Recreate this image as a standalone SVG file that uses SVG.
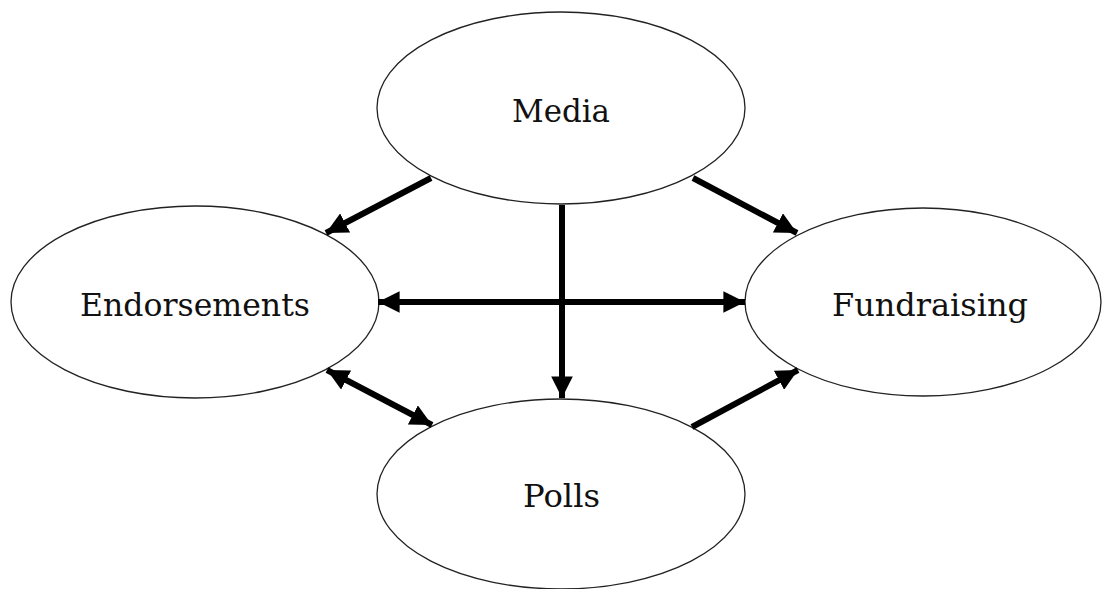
<svg xmlns="http://www.w3.org/2000/svg" width="1102" height="589" viewBox="0 0 1102 589">
<style>
.node ellipse{fill:#fff;stroke:#222;stroke-width:1.3}
.node text{font-family:"DejaVu Serif","Liberation Serif",serif;font-size:32px;fill:#111;text-anchor:middle}
.edge{stroke:#000;stroke-width:6;fill:none}
</style>
<defs>
<marker id="ah" viewBox="0 0 10 10" refX="10" refY="5" markerWidth="3.6" markerHeight="3.6" markerUnits="strokeWidth" orient="auto-start-reverse">
<path d="M0,0 L10,5 L0,10 z" fill="#000"/>
</marker>
</defs>
<g id="media" class="node"><ellipse cx="561" cy="108" rx="184" ry="96"/><text x="561" y="122" textLength="98" lengthAdjust="spacingAndGlyphs">Media</text></g>
<g id="endorsements" class="node"><ellipse cx="195" cy="302" rx="184" ry="96"/><text x="195" y="316" textLength="230" lengthAdjust="spacingAndGlyphs">Endorsements</text></g>
<g id="fundraising" class="node"><ellipse cx="923" cy="302" rx="178" ry="94"/><text x="930" y="316" textLength="196" lengthAdjust="spacingAndGlyphs">Fundraising</text></g>
<g id="polls" class="node"><ellipse cx="561" cy="494" rx="184" ry="95"/><text x="561.5" y="507" textLength="77" lengthAdjust="spacingAndGlyphs">Polls</text></g>
<g id="connectors">
<line class="edge" x1="431" y1="178" x2="326" y2="233" marker-end="url(#ah)"/>
<line class="edge" x1="693" y1="178" x2="797" y2="233" marker-end="url(#ah)"/>
<line class="edge" x1="562" y1="205" x2="562" y2="398" marker-end="url(#ah)"/>
<line class="edge" x1="378" y1="302" x2="745" y2="302" marker-start="url(#ah)" marker-end="url(#ah)"/>
<line class="edge" x1="327" y1="370" x2="432" y2="425" marker-start="url(#ah)" marker-end="url(#ah)"/>
<line class="edge" x1="692" y1="427" x2="798" y2="370" marker-end="url(#ah)"/>
</g>
</svg>
